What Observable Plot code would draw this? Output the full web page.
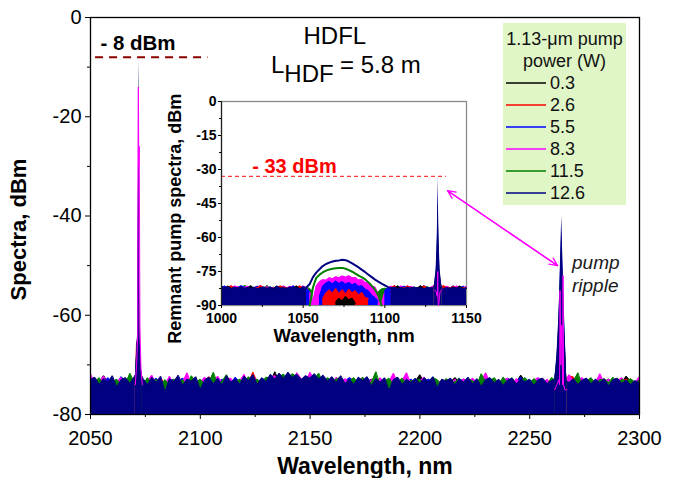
<!DOCTYPE html>
<html>
<head>
<meta charset="utf-8">
<script src="https://cdn.jsdelivr.net/npm/d3@7"></script>
<script src="https://cdn.jsdelivr.net/npm/@observablehq/plot@0.6"></script>
<style>
  html, body { margin: 0; padding: 0; background: #fff; }
  #chart { position: relative; width: 676px; height: 478px; overflow: hidden;
           font-family: "Liberation Sans", Arial, Helvetica, sans-serif; }
  #chart > svg { position: absolute; left: 0; top: 0; }
  #legend { position: absolute; left: 503px; top: 23px; width: 123px; height: 182px;
            background: #e0f6c6; font-size: 18px; color: #111; }
  #legend .row { position: absolute; left: 0; width: 123px; height: 22px; line-height: 22px; white-space: nowrap; }
  #legend .head { text-align: center; }
  #legend .swatch { position: absolute; left: 3px; top: 9px; }
  #legend .label { position: absolute; left: 47px; top: 0; }
</style>
</head>
<body>
<div id="chart"></div>
<script>
// ---- series: 1.13-um pump power (W) and trace colours ----
const powers = ["0.3", "2.6", "5.5", "8.3", "11.5", "12.6"];
const colors = ["#000000", "#ff0000", "#0000ff", "#ff00ff", "#008000", "#000080"];

// ---- main spectra: noise floor sampled every 2 nm, 2050..2300 nm (dBm) ----
const mainWl = d3.range(2050, 2301, 2);
const mainNoise03 = [
  -73.6, -73.4, -73.5, -72.2, -73.6, -73.5, -73.4, -73.6, -73.5, -73.4,
  -73.5, -72.8, -73.6, -73.4, -73.5, -73.6, -73.4, -73.5, -73.6, -73.4,
  -73.5, -73.4, -73.6, -73.5, -73.4, -73.5, -73.6, -73.4, -73.5, -73.6,
  -73.4, -73.5, -73.6, -73.4, -73.5, -73.6, -73.4, -73.5, -73.6, -73.4,
  -73.5, -73.4, -71.4, -73.5, -73.6, -73.4, -73.5, -73.4, -73.6, -73.5,
  -73.4, -73.6, -73.5, -73.4, -73.6, -73.5, -73.4, -73.5, -73.6, -73.4,
  -73.5, -73.6, -73.4, -73.5, -72.9, -73.4, -73.5, -73.6, -73.4, -73.5,
  -73.6, -73.4, -73.5, -73.6, -73.4, -72.0, -73.5, -73.6, -73.4, -73.5,
  -73.6, -73.4, -73.5, -72.6, -73.4, -73.5, -73.6, -73.4, -73.5, -73.6,
  -73.4, -73.5, -73.6, -73.4, -73.5, -73.6, -73.4, -73.5, -72.1, -73.4,
  -73.5, -73.6, -73.4, -73.5, -73.6, -73.4, -73.5, -73.6, -73.4, -73.5,
  -73.6, -73.4, -73.5, -73.6, -73.4, -73.5, -73.6, -73.4, -72.9, -73.6,
  -73.4, -73.5, -72.3, -73.4, -73.5, -73.6
];
const mainNoise26 = [
  -73.4, -73.2, -73.6, -73.3, -73.9, -73.0, -73.5, -73.4, -73.2, -73.5,
  -73.2, -70.5, -73.5, -73.2, -73.5, -73.4, -72.6, -74.0, -73.5, -73.6,
  -73.5, -73.3, -73.3, -72.9, -73.5, -73.5, -73.4, -72.4, -73.5, -73.3,
  -73.5, -73.6, -73.2, -73.3, -73.5, -73.4, -73.5, -71.5, -73.6, -73.4,
  -73.5, -73.4, -73.3, -73.2, -73.3, -72.8, -73.3, -73.2, -73.4, -73.2,
  -73.2, -73.3, -73.3, -73.3, -73.3, -73.4, -72.9, -73.2, -73.5, -73.5,
  -73.5, -73.4, -73.4, -73.4, -73.5, -73.5, -73.4, -73.4, -73.6, -73.5,
  -73.5, -72.8, -73.5, -73.4, -73.3, -73.5, -73.4, -73.5, -73.2, -73.5,
  -73.6, -73.4, -73.3, -73.5, -73.5, -73.5, -73.3, -73.5, -73.4, -73.5,
  -73.5, -73.4, -73.5, -73.5, -73.5, -73.4, -73.5, -73.5, -73.5, -73.5,
  -73.4, -73.5, -73.4, -73.5, -73.5, -73.4, -73.6, -73.5, -73.4, -72.2,
  -72.5, -73.5, -73.4, -73.2, -73.5, -73.4, -73.5, -72.9, -73.5, -73.4,
  -73.5, -73.4, -72.9, -73.5, -73.4, -73.5
];
const mainNoise55 = [
  -73.6, -72.9, -73.3, -73.5, -72.6, -73.7, -73.8, -72.4, -73.3, -74.0,
  -73.3, -72.0, -73.2, -73.6, -73.4, -72.7, -73.8, -74.5, -73.4, -72.9,
  -73.4, -72.7, -73.5, -73.6, -72.9, -74.0, -72.6, -73.3, -72.8, -73.8,
  -72.9, -73.4, -73.7, -72.5, -73.6, -73.2, -72.7, -73.8, -73.4, -72.9,
  -72.9, -73.2, -72.5, -72.6, -73.1, -72.6, -72.1, -72.7, -73.6, -72.5,
  -73.4, -72.5, -73.2, -72.8, -73.7, -72.9, -73.2, -73.0, -73.3, -72.6,
  -73.2, -73.6, -73.7, -72.6, -73.5, -73.3, -72.8, -73.6, -73.8, -73.6,
  -73.2, -73.5, -73.4, -72.9, -73.6, -72.9, -73.4, -72.9, -73.6, -73.5,
  -73.3, -73.8, -73.2, -73.6, -73.3, -72.9, -73.3, -72.9, -73.5, -73.2,
  -73.6, -73.4, -73.2, -73.5, -73.6, -72.7, -73.3, -73.4, -72.5, -73.9,
  -73.2, -73.5, -72.7, -73.4, -73.3, -73.5, -73.3, -72.9, -73.5, -72.3,
  -73.4, -73.6, -73.5, -73.3, -73.3, -73.4, -72.9, -73.5, -73.5, -73.4,
  -73.4, -73.3, -73.5, -73.4, -73.4, -73.3
];
const mainNoise83 = [
  -71.8, -73.8, -73.5, -72.3, -74.0, -73.0, -73.4, -72.6, -73.9, -73.2,
  -73.0, -71.5, -73.9, -73.2, -72.1, -74.1, -73.0, -74.0, -72.3, -74.0,
  -72.6, -73.5, -71.6, -74.0, -73.0, -73.6, -72.5, -73.8, -73.2, -72.3,
  -73.6, -72.9, -72.7, -74.0, -73.3, -71.9, -73.9, -72.6, -73.1, -73.2,
  -74.0, -72.5, -72.2, -73.0, -72.6, -72.3, -73.4, -71.6, -72.8, -73.5,
  -71.5, -73.1, -73.5, -72.6, -72.9, -73.8, -72.5, -73.4, -72.8, -73.6,
  -73.4, -73.2, -72.6, -73.9, -73.0, -73.6, -72.6, -74.0, -73.4, -71.7,
  -73.9, -73.1, -71.6, -74.0, -73.3, -73.2, -72.5, -74.1, -73.5, -73.2,
  -73.6, -72.9, -74.0, -72.9, -73.6, -72.8, -73.7, -72.7, -73.5, -73.3,
  -71.6, -73.7, -72.9, -73.4, -73.1, -72.7, -73.9, -72.8, -73.6, -73.0,
  -73.5, -73.1, -72.6, -73.8, -72.9, -73.9, -73.4, -73.6, -73.4, -72.0,
  -73.5, -73.0, -72.6, -73.8, -72.8, -73.6, -71.8, -73.7, -72.9, -73.7,
  -73.2, -72.6, -73.8, -72.9, -73.6, -72.4
];
const mainNoise115 = [
  -74.0, -73.5, -72.6, -74.0, -73.8, -73.5, -72.9, -74.2, -73.8, -71.7,
  -73.6, -72.0, -74.0, -72.6, -73.8, -72.9, -74.1, -73.0, -74.0, -72.9,
  -73.5, -73.0, -74.1, -72.2, -73.6, -72.9, -74.0, -73.5, -71.5, -74.0,
  -73.3, -72.0, -74.2, -73.5, -72.9, -73.6, -72.4, -73.5, -72.9, -73.8,
  -72.5, -72.7, -74.0, -72.4, -71.9, -72.9, -71.8, -72.4, -74.0, -72.8,
  -73.1, -72.9, -71.7, -73.8, -72.6, -73.4, -72.9, -72.5, -74.0, -73.3,
  -72.6, -73.8, -72.5, -73.7, -73.5, -71.4, -74.2, -73.3, -72.7, -74.1,
  -73.6, -72.7, -74.0, -73.2, -73.2, -72.9, -74.0, -73.5, -72.6, -73.0,
  -74.1, -72.8, -73.4, -73.5, -72.7, -74.1, -72.9, -73.2, -74.0, -71.8,
  -73.5, -73.2, -72.6, -74.0, -72.5, -73.6, -72.6, -74.0, -73.2, -72.6,
  -73.7, -72.8, -73.6, -73.5, -74.0, -72.6, -73.2, -74.2, -73.0, -74.0,
  -73.3, -71.6, -74.4, -73.3, -72.6, -74.0, -73.0, -72.9, -73.6, -72.5,
  -74.1, -72.9, -73.4, -72.8, -73.5, -73.2
];
const mainNoise126 = [
  -73.0, -72.5, -74.0, -72.8, -73.5, -72.2, -74.5, -73.0, -72.6, -73.8,
  -72.4, -71.0, -72.8, -74.0, -72.5, -73.6, -72.3, -75.5, -72.8, -73.4,
  -72.1, -74.2, -72.9, -73.3, -72.4, -75.0, -73.1, -72.5, -73.9, -72.7,
  -74.1, -72.2, -73.5, -72.8, -73.9, -72.3, -73.2, -72.0, -74.0, -72.6,
  -73.4, -71.9, -72.9, -71.7, -72.8, -71.5, -72.6, -71.9, -73.0, -72.2,
  -72.7, -71.8, -72.9, -72.1, -73.3, -72.4, -73.6, -72.2, -73.8, -72.9,
  -74.0, -72.5, -73.2, -72.4, -74.3, -72.8, -73.5, -72.6, -75.2, -73.0,
  -72.5, -74.0, -72.9, -73.6, -72.7, -73.8, -72.6, -73.4, -72.4, -74.6,
  -72.9, -73.3, -72.7, -74.1, -72.8, -73.5, -72.5, -73.9, -72.8, -74.4,
  -73.0, -72.6, -73.7, -72.9, -74.2, -73.1, -72.7, -73.9, -72.8, -73.5,
  -72.9, -74.2, -73.0, -72.7, -73.8, -73.2, -72.8, -72.5, -73.0, -73.6,
  -72.8, -74.0, -73.1, -72.7, -73.9, -72.9, -73.6, -72.8, -74.3, -73.0,
  -72.7, -73.8, -73.1, -74.0, -73.2, -73.6
];

// ---- 2.07-um laser line (dBm) ----
const laserWl = [2070.4, 2071.0, 2071.5, 2071.8, 2072.0, 2072.2, 2072.5, 2073.0, 2073.6];
const laser03  = [-73, -68, -65, -44, -8.5, -46, -66, -70, -73];
const laser26  = [-73, -65, -66, -45, -12, -45, -66, -70, -73];
const laser55  = [-73, -67, -64, -42, -9, -44, -65, -70, -73];
const laser83  = [-74, -70, -64, -14, -30, -26, -62, -71, -74];
const laser115 = [-73, -68, -65, -43, -9, -45, -66, -70, -73];
const laser126 = [-73, -68, -63, -40, -8, -42, -64, -69, -73];

// ---- residual pump ripple near 2265 nm (dBm) ----
const rippleWl = [2261.4, 2262.4, 2263.2, 2263.6, 2263.8, 2264.2, 2264.6, 2265.0, 2265.2, 2265.4, 2266.0, 2266.9];
const ripple03  = [-73, -70, -65, -61, -58, -54, -49, -55, -58, -60, -66, -73];
const ripple26  = [-73, -70, -64, -60, -57, -52, -47, -53, -56, -59, -65, -73];
const ripple55  = [-73, -69, -62, -57, -54, -48, -43, -49, -52, -55, -63, -73];
const ripple83  = [-75, -74, -73, -74, -55, -70, -62, -74, -52, -74, -75, -75];
const ripple115 = [-73, -69, -63, -58, -55, -50, -45, -51, -54, -57, -64, -73];
const ripple126 = [-73, -68, -61, -56, -53, -46, -40, -47, -50, -53, -62, -73];

// ---- inset: remnant pump spectra, 2-nm samples 1000..1150 nm (null = no trace) ----
const insetWl = d3.range(1000, 1151, 2);
const insetNoise03 = [
  -82.5, -82.6, -81.4, -82.5, -82.6, -82.4, -82.5, -82.6, -82.4, -81.3,
  -82.5, -82.6, -82.4, -82.5, -82.6, -82.4, -82.5, -81.5, -82.6, -82.4,
  -82.5, -82.6, -82.4, -81.4, -82.6, -82.5, -82.4, null, null, null,
  null, null, null, null, null, -88.5, -86.8, -88.0, -86.0, -87.5,
  -86.8, -89.0, null, null, null, null, null, null, null, null,
  null, null, -82.5, -82.4, -81.5, -82.6, -82.5, -82.4, -82.6, -82.5,
  -82.4, -81.3, -82.6, -82.5, -82.4, -82.6, -82.5, -82.4, -82.6, -82.5,
  -82.4, -82.6, -82.5, -81.4, -82.6, -82.5
];
const insetNoise26 = [
  -82.3, -82.4, -82.2, -81.3, -82.3, -82.4, -81.9, -82.5, -82.3, -82.4,
  -82.4, -82.3, -81.2, -82.2, -82.4, -82.3, -82.5, -82.3, -81.4, -81.9,
  -82.4, -82.3, -82.5, -82.4, -81.3, -82.5, -82.4, null, null, null,
  null, -87.0, -84.5, -83.2, -84.6, -82.5, -84.8, -83.0, -85.0, -82.8,
  -84.5, -83.5, -85.5, -84.2, -86.5, -87.0, null, null, null, null,
  null, null, -82.4, -81.2, -82.5, -82.2, -82.4, -81.3, -82.3, -82.4,
  -82.5, -82.3, -81.4, -82.2, -82.4, -82.5, -82.3, -82.4, -81.2, -82.3,
  -82.4, -81.5, -82.3, -82.4, -82.2, -82.4
];
const insetNoise55 = [
  -82.4, -81.4, -82.6, -81.7, -82.5, -82.2, -81.3, -81.9, -82.6, -82.1,
  -82.2, -81.5, -82.0, -82.4, -82.3, -81.8, -82.6, -81.4, -82.3, -82.5,
  -82.1, -82.6, -81.3, -82.2, -81.8, -82.4, -82.3, -84.0, null, null,
  -86.0, -81.5, -80.2, -79.4, -80.5, -79.2, -80.3, -79.5, -80.6, -79.8,
  -80.9, -80.3, -81.6, -81.2, -82.8, -83.5, -85.5, -86.5, -88.0, null,
  -83.5, -82.3, -82.5, -81.4, -82.6, -82.2, -81.5, -82.3, -82.0, -82.5,
  -82.2, -82.5, -81.3, -82.4, -82.3, -82.6, -81.6, -82.4, -81.8, -82.4,
  -82.3, -81.4, -82.5, -82.4, -81.5, -82.5
];
const insetNoise83 = [
  -82.2, -82.5, -82.1, -82.3, -81.4, -81.8, -82.6, -82.1, -81.5, -82.3,
  -82.5, -82.0, -81.3, -82.3, -81.7, -82.5, -82.2, -82.6, -82.1, -81.4,
  -82.3, -81.5, -82.2, -82.5, -82.3, -81.4, -82.1, -84.0, -88.0, -81.5,
  -79.5, -78.6, -78.9, -77.8, -78.2, -77.3, -77.8, -77.0, -77.5, -76.9,
  -77.8, -77.6, -78.8, -78.5, -79.8, -80.0, -81.5, -81.8, -85.0, -89.0,
  -84.0, -82.4, -81.5, -82.5, -82.1, -81.4, -82.3, -82.0, -81.6, -82.2,
  -82.4, -81.5, -82.5, -82.3, -82.1, -81.3, -82.2, -82.4, -82.3, -81.5,
  -82.2, -82.4, -81.4, -82.1, -82.5, -81.6
];
const insetNoise115 = [
  -82.6, -81.6, -82.4, -81.9, -82.8, -82.1, -82.5, -81.3, -81.7, -82.9,
  -82.3, -82.1, -81.7, -82.5, -81.2, -82.6, -81.9, -82.4, -82.6, -81.8,
  -82.2, -82.5, -81.9, -82.6, -82.2, -82.4, -82.0, -82.5, -84.0, null,
  null, null, null, null, null, null, null, null, null, null,
  null, null, null, null, null, null, null, -86.0, -84.0, -82.8,
  -82.4, -82.6, -82.1, -82.7, -81.3, -82.5, -81.8, -82.6, -82.2, -82.5,
  -82.1, -82.6, -82.3, -81.7, -82.6, -82.3, -82.4, -82.2, -82.7, -81.9,
  -82.4, -82.5, -81.8, -82.6, -82.2, -82.4
];
const insetNoise126 = [
  -81.5, -82.3, -81.8, -82.6, -81.9, -82.4, -81.7, -82.8, -82.1, -82.5,
  -81.9, -82.7, -82.2, -81.8, -82.6, -82.0, -82.9, -81.6, -82.4, -82.2,
  -82.7, -81.8, -82.5, -82.1, -82.8, -81.7, -82.3, null, null, null,
  null, null, null, null, null, null, null, null, null, null,
  null, null, null, null, null, null, null, null, null, null,
  null, null, -82.4, -81.9, -82.6, -82.1, -82.7, -82.0, -82.4, -81.8,
  -82.5, -82.2, -82.8, -81.9, -82.4, -82.1, -82.6, -82.0, -82.5, -82.2,
  -82.7, -81.9, -82.4, -82.1, -82.6, -82.3
];

// smooth ASE hump of the two highest pump powers, 1052..1104 nm
const insetBumpWl = d3.range(1052, 1105, 2);
const insetBump115 = [
  null, -90.0, -82.0, -77.8, -76.4, -75.4, -74.6, -74.1, -73.8, -73.6,
  -73.5, -73.4, -73.8, -74.4, -75.1, -75.9, -76.8, -77.6, -78.5, -79.8,
  -81.3, -83.0, -85.5, -90.0, null, null, null
];
const insetBump126 = [
  -82.0, -80.5, -77.5, -75.5, -74.0, -72.6, -71.7, -71.1, -70.6, -70.3,
  -70.1, -69.8, -70.0, -70.6, -71.4, -72.3, -73.2, -74.3, -75.3, -76.4,
  -77.5, -78.6, -79.5, -80.3, -81.1, -81.9, -82.4
];

// unabsorbed 1.13-um pump line
const insetPeakWl = [1130.2, 1131.4, 1132.1, 1132.4, 1132.6, 1132.8, 1133.1, 1133.8, 1135.0];
const insetPeak03  = [-82, -80, -75, -68, -62, -68, -75, -80, -82];
const insetPeak26  = [-82, -78, -70, -60, -52, -60, -70, -78, -82];
const insetPeak55  = [-82, -76, -64, -50, -40, -50, -62, -76, -82];
const insetPeak83  = [-83, -84, -86, -75, -88, -90, -89, -84, -83];
const insetPeak115 = [-82, -77, -66, -53, -43, -53, -64, -77, -82];
const insetPeak126 = [-82, -74, -60, -45, -33, -44, -58, -74, -82];

// ---- axis ticks ----
const mainXTicks = [2050, 2100, 2150, 2200, 2250, 2300];
const mainXMinor = [2075, 2125, 2175, 2225, 2275];
const mainYTicks = [-80, -60, -40, -20, 0];
const mainYMinor = [-70, -50, -30, -10];
const insetXTicks = [1000, 1050, 1100, 1150];
const insetXMinor = [1025, 1075, 1125];
const insetYTicks = [-90, -75, -60, -45, -30, -15, 0];
const insetYMinor = [-82.5, -67.5, -52.5, -37.5, -22.5, -7.5];

// ---------------------------------------------------------------
const FONT = '"Liberation Sans", Arial, Helvetica, sans-serif';
const pts = (wl, vals) => vals.map((v, i) => ({wl: wl[i], dbm: v}));

const mainNoise = [mainNoise03, mainNoise26, mainNoise55, mainNoise83, mainNoise115, mainNoise126];
const laser = [laser03, laser26, laser55, laser83, laser115, laser126];
const ripple = [ripple03, ripple26, ripple55, ripple83, ripple115, ripple126];
const insetNoise = [insetNoise03, insetNoise26, insetNoise55, insetNoise83, insetNoise115, insetNoise126];
const insetPeak = [insetPeak03, insetPeak26, insetPeak55, insetPeak83, insetPeak115, insetPeak126];
const MAG = 3, GRN = 4, NAVY = 5;

const laserTop = d3.max(laser126);      // -8 dBm
const pumpTop = d3.max(insetPeak126);    // -33 dBm
const fmtDbm = d => `- ${-d} dBm`;
const noLabel = () => "";

// filled trace: the dense spectrum fills down to the bottom of the axis
function filled(wl, vals, color, base) {
  const p = pts(wl, vals);
  return [
    Plot.areaY(p, {x: "wl", y1: base, y2: "dbm", fill: color}),
    Plot.lineY(p, {x: "wl", y: "dbm", stroke: color, strokeWidth: 1})
  ];
}

// ---------------- main chart ----------------
const main = Plot.plot({
  width: 676, height: 478,
  marginLeft: 90, marginRight: 37, marginTop: 17, marginBottom: 64,
  x: {domain: [2050, 2300]},
  y: {domain: [-80, 0]},
  style: {fontFamily: FONT, fontSize: "20px", color: "#000", background: "transparent"},
  marks: [
    ...d3.range(6).flatMap(i => filled(mainWl, mainNoise[i], colors[i], -80)),
    ...d3.range(6).map(i => Plot.areaY(pts(laserWl, laser[i]), {x: "wl", y1: -80, y2: "dbm", fill: colors[i]})),
    ...d3.range(6).map(i => Plot.areaY(pts(rippleWl, ripple[i]), {x: "wl", y1: -80, y2: "dbm", fill: colors[i]})),
    Plot.lineY(pts(laserWl, laser83), {x: "wl", y: "dbm", stroke: colors[MAG], strokeWidth: 1}),
    Plot.lineY(pts(rippleWl, ripple83), {x: "wl", y: "dbm", stroke: colors[MAG], strokeWidth: 1}),

    Plot.ruleY([laserTop], {x1: 2052.3, x2: 2103.5, stroke: "#8b0000", strokeWidth: 2, strokeDasharray: "8,6"}),
    Plot.text([laserTop], {x: 2054.5, y: d => d, text: fmtDbm, textAnchor: "start", lineAnchor: "bottom",
                           dy: -7, fontSize: 20.5, fontWeight: "bold"}),

    Plot.axisX({ticks: mainXTicks, tickSize: 5, tickPadding: 11, tickFormat: d => String(d), label: null}),
    Plot.axisX({ticks: mainXMinor, tickSize: 3, tickFormat: noLabel, label: null}),
    Plot.axisY({ticks: mainYTicks, tickSize: 5, tickPadding: 4, tickFormat: d => String(d), label: null}),
    Plot.axisY({ticks: mainYMinor, tickSize: 3, tickFormat: noLabel, label: null}),
    Plot.frame({stroke: "#000", strokeWidth: 1.3}),

    Plot.text(["Wavelength, nm"], {text: d => d, frameAnchor: "bottom", dy: 59.3, lineAnchor: "bottom",
                                   fontSize: 23, fontWeight: "bold"}),
    Plot.text(["Spectra, dBm"], {text: d => d, frameAnchor: "left", textAnchor: "middle", rotate: -90,
                                 dx: -64.5, dy: 13.5, lineAnchor: "bottom", fontSize: 22, fontWeight: "bold"})
  ]
});

// ---------------- inset: remnant pump ----------------
const insetOrder = [GRN, MAG, 2, 1, 0, NAVY];
const inset = Plot.plot({
  width: 340, height: 270,
  marginLeft: 71, marginRight: 24, marginTop: 16, marginBottom: 50,
  x: {domain: [1000, 1150]},
  y: {domain: [-90, 0]},
  style: {fontFamily: FONT, fontSize: "14px", fontWeight: "bold", color: "#000", background: "transparent"},
  marks: [
    Plot.frame({fill: "#fff", stroke: "#8a8a8a", strokeWidth: 1.3}),
    ...insetOrder.flatMap(i => filled(insetWl, insetNoise[i], colors[i], -90)),
    Plot.lineY(pts(insetBumpWl, insetBump115), {x: "wl", y: "dbm", stroke: colors[GRN], strokeWidth: 2}),
    Plot.lineY(pts(insetBumpWl, insetBump126), {x: "wl", y: "dbm", stroke: colors[NAVY], strokeWidth: 2}),
    ...d3.range(6).map(i => Plot.areaY(pts(insetPeakWl, insetPeak[i]), {x: "wl", y1: -90, y2: "dbm", fill: colors[i]})),
    Plot.lineY(pts(insetPeakWl, insetPeak83), {x: "wl", y: "dbm", stroke: colors[MAG], strokeWidth: 1}),

    Plot.ruleY([pumpTop], {x1: 1000, x2: 1137.7, stroke: "#ff3b3b", strokeWidth: 1.2, strokeDasharray: "4,3"}),
    Plot.text([pumpTop], {x: 1018.8, y: d => d, text: fmtDbm, textAnchor: "start", lineAnchor: "bottom",
                          dy: -3, fontSize: 20, fontWeight: "bold", fill: "#ff0000"}),

    Plot.ruleX([1000], {stroke: "#222", strokeWidth: 1.2}),
    Plot.axisX({ticks: insetXTicks, tickSize: 3, tickPadding: 5, tickFormat: d => String(d), label: null}),
    Plot.axisX({ticks: insetXMinor, tickSize: 2, tickFormat: noLabel, label: null}),
    Plot.axisY({ticks: insetYTicks, tickSize: 3, tickPadding: 2, tickFormat: d => String(d), label: null}),
    Plot.axisY({ticks: insetYMinor, tickSize: 2, tickFormat: noLabel, label: null}),

    Plot.text(["Wavelength, nm"], {text: d => d, frameAnchor: "bottom", dy: 36.7, lineAnchor: "bottom",
                                   fontSize: 18.5, fontWeight: "bold"}),
    Plot.text(["Remnant pump spectra, dBm"], {text: d => d, frameAnchor: "left", textAnchor: "middle",
                                              rotate: -90, dx: -41, dy: 15.2, lineAnchor: "bottom",
                                              fontSize: 18, fontWeight: "bold"})
  ]
});
inset.style.left = "150px";
inset.style.top = "85px";

// ---------------- annotation layer (same frame as the main chart) ----------------
const arrowEnds = [{x1: 2262.7, y1: -50.0, x2: 2212.6, y2: -34.9}];
const topLeft = (txt, dx, dy, extra = {}) =>
  Plot.text([txt], {text: d => d, frameAnchor: "top-left", dx, dy, textAnchor: "start",
                    lineAnchor: "bottom", fontSize: 24, ...extra});
const over = Plot.plot({
  width: 676, height: 478,
  marginLeft: 90, marginRight: 37, marginTop: 17, marginBottom: 64,
  x: {domain: [2050, 2300], axis: null},
  y: {domain: [-80, 0], axis: null},
  style: {fontFamily: FONT, fontSize: "24px", color: "#000", background: "transparent", pointerEvents: "none"},
  marks: [
    Plot.arrow(arrowEnds, {x1: "x1", y1: "y1", x2: "x2", y2: "y2", stroke: "#ff00ff", strokeWidth: 1.3,
                           headLength: 10, headAngle: 50}),
    Plot.arrow(arrowEnds, {x1: "x2", y1: "y2", x2: "x1", y2: "y1", stroke: "#ff00ff", strokeWidth: 1.3,
                           headLength: 10, headAngle: 50}),
    topLeft("HDFL", 213, 26),
    topLeft("L", 180.5, 55.5),
    topLeft("HDF", 193.8, 64.5),
    topLeft("= 5.8 m", 249.5, 55.5),
    topLeft("pump", 481.5, 251, {fontSize: 19, fontStyle: "italic", fill: "#1a1a1a"}),
    topLeft("ripple", 481.5, 274, {fontSize: 19, fontStyle: "italic", fill: "#1a1a1a"})
  ]
});

// ---------------- legend ----------------
const legend = document.createElement("div");
legend.id = "legend";
const rowTop = k => Math.round(5.2 + k * 21.94);
["1.13-\u03bcm pump", "power (W)"].forEach((t, k) => {
  const row = document.createElement("div");
  row.className = "row head";
  row.style.top = rowTop(k) + "px";
  row.textContent = t;
  legend.appendChild(row);
});
powers.forEach((p, i) => {
  const row = document.createElement("div");
  row.className = "row";
  row.style.top = rowTop(i + 2) + "px";
  row.innerHTML =
    `<svg class="swatch" width="40" height="4"><line x1="0" x2="40" y1="2" y2="2" stroke="${colors[i]}" stroke-width="1.5"/></svg>` +
    `<span class="label">${p}</span>`;
  legend.appendChild(row);
});

const chart = document.getElementById("chart");
chart.append(main, inset, over, legend);
</script>
</body>
</html>
